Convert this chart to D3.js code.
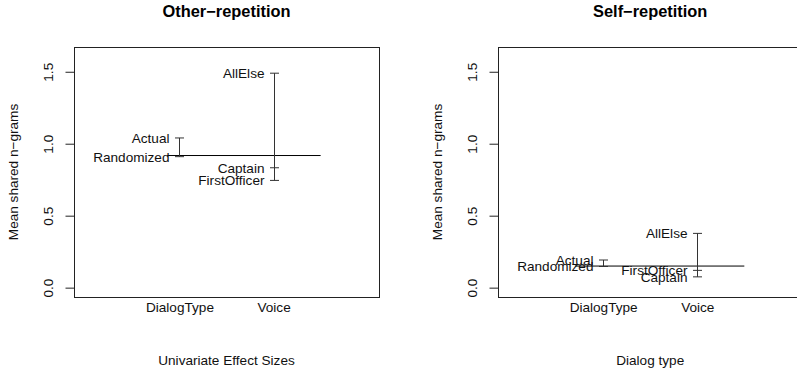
<!DOCTYPE html>
<html>
<head>
<meta charset="utf-8">
<script src="https://cdn.jsdelivr.net/npm/d3@7"></script>
<style>
  body { margin: 0; background: #fff; }
  svg { display: block; font-family: "Liberation Sans", Arial, Helvetica, sans-serif; }
</style>
</head>
<body>
<svg id="chart" width="797" height="373"></svg>
<script>
// design plot data
const panelTitles = ["Other\u2212repetition", "Self\u2212repetition"];
const xTitles = ["Univariate Effect Sizes", "Dialog type"];
const yTitle = "Mean shared n\u2212grams";
const factors = ["DialogType", "Voice"];
const dialogLevels = ["Actual", "Randomized"];
const voiceLevels = ["AllElse", "Captain", "FirstOfficer"];

const otherDialog = [1.04, 0.91];
const otherVoice = [1.49, 0.833, 0.745];
const otherMean = 0.918;

const selfDialog = [0.192, 0.147];
const selfVoice = [0.377, 0.075, 0.12];
const selfMean = 0.15;

// where the grand-mean segment starts (x in factor units), ends at 2.5
const meanStart = [0.87, 0.70];
const meanEnd = 2.5;

const yTicks = [0, 0.5, 1.0, 1.5];
const yTickLabels = ["0.0", "0.5", "1.0", "1.5"];

const svg = d3.select("#chart");
const fs = 13.6;

const panelData = [
  { dialog: otherDialog, voice: otherVoice, mean: otherMean },
  { dialog: selfDialog, voice: selfVoice, mean: selfMean }
];

const boxW = 305, boxTop = 47, boxBottom = 297;
const boxLefts = [74, 497.7];

const yScale = d3.scaleLinear().domain([-0.065, 1.672]).range([boxBottom, boxTop]);

panelData.forEach((p, k) => {
  const left = boxLefts[k];
  const xScale = d3.scaleLinear().domain([-0.12, 3.12]).range([left, left + boxW]);
  const g = svg.append("g");
  const cx = left + boxW / 2;

  // title
  g.append("text")
    .attr("x", cx).attr("y", 17)
    .attr("text-anchor", "middle")
    .attr("font-size", 16.4).attr("font-weight", "bold")
    .attr("fill", "#000")
    .text(panelTitles[k]);

  // frame
  g.append("rect")
    .attr("x", Math.round(left) + 0.5).attr("y", boxTop + 0.5)
    .attr("width", boxW).attr("height", boxBottom - boxTop)
    .attr("fill", "none").attr("stroke", "#222").attr("stroke-width", 1);

  // y axis
  const yAxis = d3.axisLeft(yScale)
    .tickValues(yTicks)
    .tickFormat((d, i) => yTickLabels[i])
    .tickSize(9).tickPadding(0);
  const ya = g.append("g")
    .attr("transform", `translate(${Math.round(left) + 0.5},0)`)
    .call(yAxis);
  ya.select(".domain").remove();
  ya.selectAll("line").attr("stroke", "#222");
  ya.selectAll("text")
    .attr("font-size", fs).attr("fill", "#111")
    .attr("font-family", null)
    .attr("x", null).attr("dy", null)
    .attr("text-anchor", "middle")
    .attr("transform", "translate(-22,0) rotate(-90)");
  ya.attr("font-family", null).attr("font-size", null);

  // x axis (labels only)
  const xAxis = d3.axisBottom(xScale)
    .tickValues([1, 2])
    .tickFormat((d, i) => factors[i])
    .tickSize(0).tickPadding(0);
  const xa = g.append("g")
    .attr("transform", `translate(0,${boxBottom})`)
    .call(xAxis);
  xa.select(".domain").remove();
  xa.attr("font-family", null).attr("font-size", null);
  xa.selectAll("text")
    .attr("font-size", fs).attr("fill", "#111")
    .attr("dy", null).attr("y", 14.7);

  // axis titles
  g.append("text")
    .attr("x", cx).attr("y", 364.5)
    .attr("text-anchor", "middle")
    .attr("font-size", fs).attr("fill", "#111")
    .text(xTitles[k]);
  g.append("text")
    .attr("transform", `translate(${left - 56},${(boxTop + boxBottom) / 2}) rotate(-90)`)
    .attr("text-anchor", "middle")
    .attr("font-size", fs).attr("fill", "#111")
    .text(yTitle);

  // grand mean
  g.append("line")
    .attr("x1", xScale(meanStart[k])).attr("x2", xScale(meanEnd))
    .attr("y1", yScale(p.mean)).attr("y2", yScale(p.mean))
    .attr("stroke", "#000").attr("stroke-width", 1);

  // level ranges per factor
  const groups = [
    { pos: 1, levels: dialogLevels, values: p.dialog },
    { pos: 2, levels: voiceLevels, values: p.voice }
  ];
  groups.forEach(gr => {
    const x = Math.round(xScale(gr.pos)) + 0.5;
    const ext = d3.extent(gr.values);
    g.append("line")
      .attr("x1", x).attr("x2", x)
      .attr("y1", yScale(ext[0])).attr("y2", yScale(ext[1]))
      .attr("stroke", "#333").attr("stroke-width", 1);
    gr.values.forEach((v, i) => {
      g.append("line")
        .attr("x1", x - 4.5).attr("x2", x + 4.5)
        .attr("y1", yScale(v)).attr("y2", yScale(v))
        .attr("stroke", "#333").attr("stroke-width", 1);
      g.append("text")
        .attr("x", x - 10).attr("y", yScale(v) + 4.9)
        .attr("text-anchor", "end")
        .attr("font-size", fs).attr("fill", "#111")
        .text(gr.levels[i]);
    });
  });
});
</script>
</body>
</html>
